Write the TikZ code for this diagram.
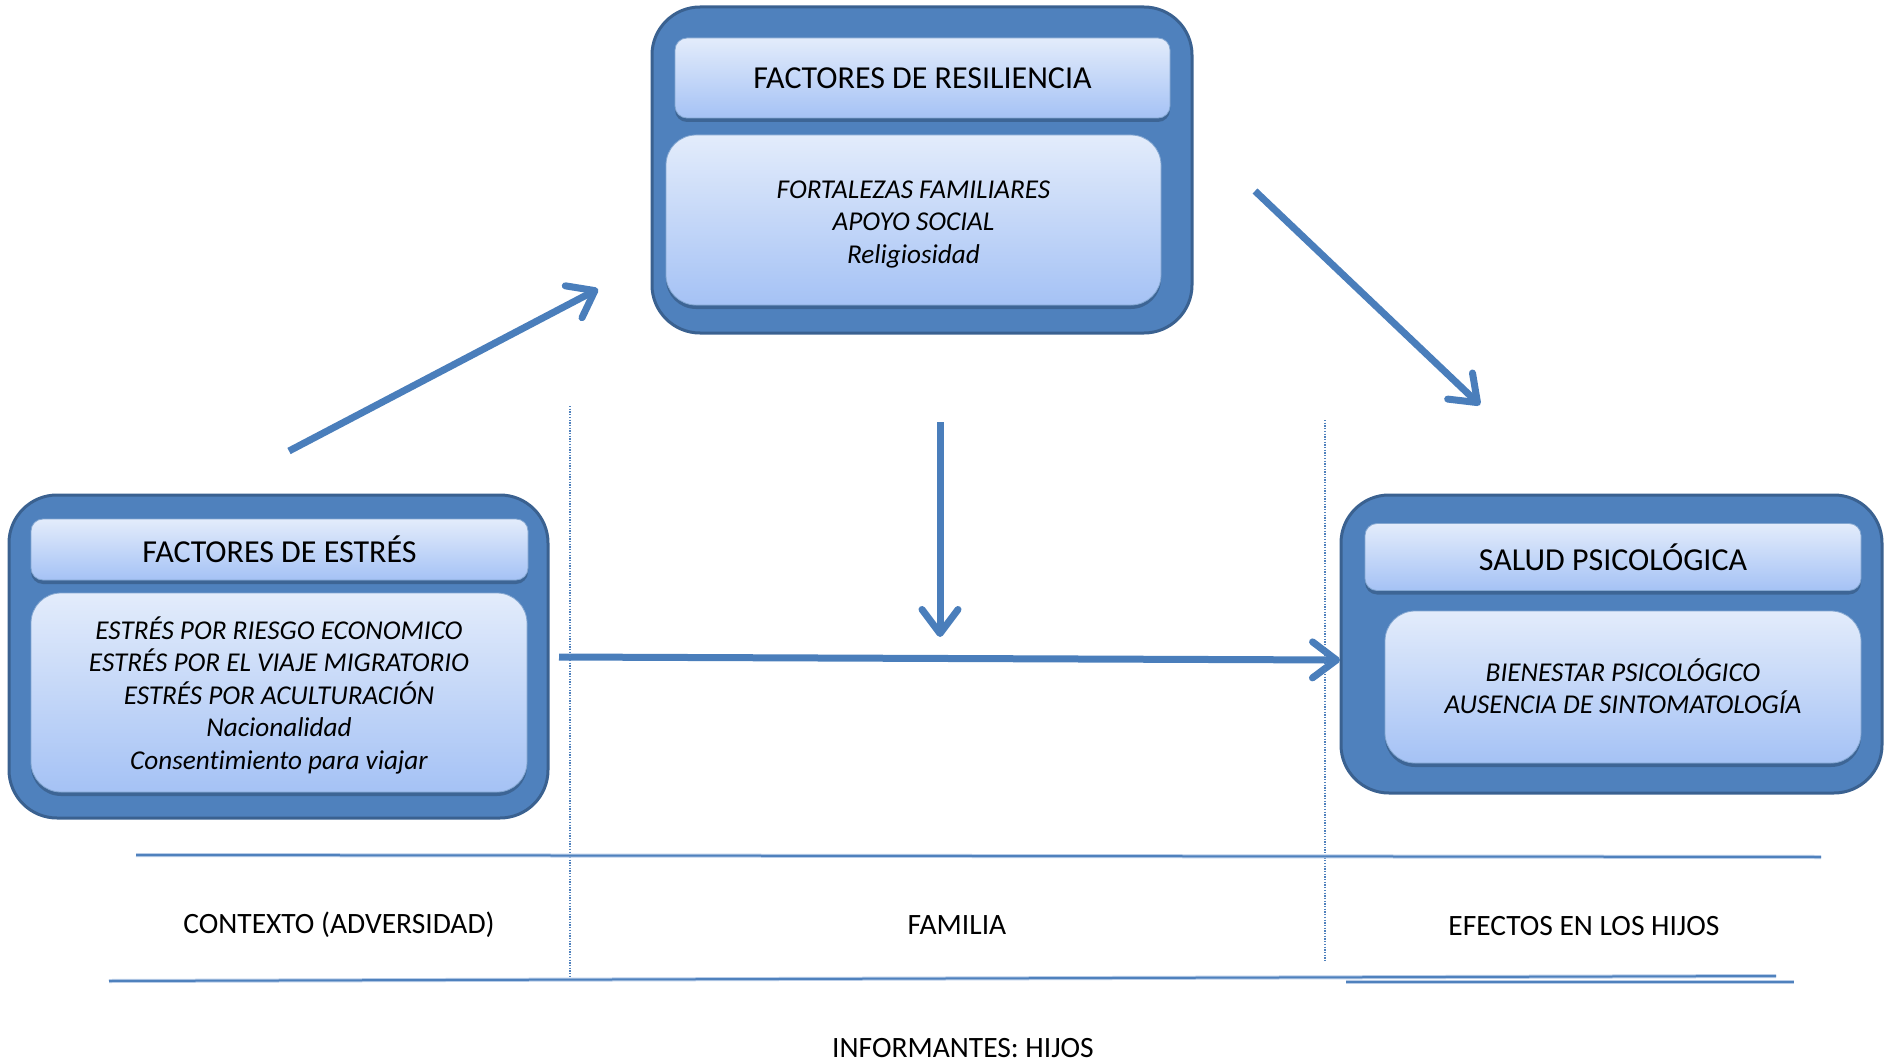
\documentclass[tikz,border=0pt]{standalone}
\usepackage{fontspec}
\setmainfont{Carlito}[Ligatures=NoCommon]
\usetikzlibrary{arrows.meta,shadows}
\definecolor{obfill}{HTML}{4F81BD}
\definecolor{obdraw}{HTML}{3A6190}
\definecolor{intop}{HTML}{E3ECFB}
\definecolor{inbot}{HTML}{A5C2F5}
\definecolor{arrowc}{HTML}{4A7EBB}
\definecolor{linec}{HTML}{4F81BD}
\definecolor{linelight}{HTML}{B9CDE8}
\tikzset{
  outerbox/.style={draw=obdraw, line width=3pt, fill=obfill, rounded corners=48pt, inner sep=0pt},
  innerbox/.style={draw=obfill!70!white, line width=0.8pt, top color=intop, bottom color=inbot,
     inner sep=0pt, align=center,
     drop shadow={shadow xshift=0pt, shadow yshift=-4pt, opacity=0.45, fill=obdraw!70!black}},
  titlebox/.style={innerbox, rounded corners=12pt, font=\fontsize{32}{38}\selectfont},
  bodybox/.style={innerbox, rounded corners=30pt},
  bodytext/.style={align=center, inner sep=0pt, font=\fontsize{27.2}{32.5}\selectfont\itshape},
  bigarrow/.style={draw=arrowc, line width=7pt, line cap=butt,
     -{Straight Barb[length=24pt,width=36pt,round]},
     preaction={draw=black, opacity=0.18, transform canvas={xshift=2pt,yshift=-2pt}}},
  divider/.style={draw=linec, line width=1.3pt, dash pattern=on 1.3pt off 1.4pt},
  rule/.style={draw=linec, line width=2pt, preaction={draw=linelight, line width=4pt}},
  label/.style={font=\fontsize{29.5}{35}\selectfont, inner sep=0pt}
}
\begin{document}
\begin{tikzpicture}[x=1pt,y=-1pt]
\useasboundingbox (0,0) rectangle (1885,1062);
% outer boxes
\node[outerbox, minimum width=540pt, minimum height=326pt] (topouter) at (922,170) {};
\node[outerbox, minimum width=539pt, minimum height=323pt] (leftouter) at (278.5,656.5) {};
\node[outerbox, minimum width=541pt, minimum height=298pt] (rightouter) at (1611.5,644) {};
% inner boxes
\node[titlebox, minimum width=495pt, minimum height=80pt] (toptitle) at (922.5,78) {FACTORES DE RESILIENCIA};
\node[bodybox, minimum width=495pt, minimum height=170pt] (topbody) at (913.5,220) {};
\node[bodytext] (topbodytext) at ([yshift=-4.5pt]topbody.center)
  {FORTALEZAS FAMILIARES\\APOYO SOCIAL\\Religiosidad};
\node[titlebox, minimum width=497pt, minimum height=61pt] (lefttitle) at (279.5,549.5) {FACTORES DE ESTRÉS};
\node[bodybox, minimum width=496pt, minimum height=199pt] (leftbody) at (279,692.5) {};
\node[bodytext] (leftbodytext) at ([yshift=-2.5pt]leftbody.center)
  {ESTRÉS POR RIESGO ECONOMICO\\ESTRÉS POR EL VIAJE MIGRATORIO\\ESTRÉS POR ACULTURACIÓN\\Nacionalidad\\Consentimiento para viajar};
\node[titlebox, minimum width=496pt, minimum height=67pt] (righttitle) at (1613,557) {SALUD PSICOLÓGICA};
\node[bodybox, minimum width=476pt, minimum height=152pt] (rightbody) at (1623,687) {};
\node[bodytext] (rightbodytext) at ([yshift=1pt]rightbody.center)
  {BIENESTAR PSICOLÓGICO\\AUSENCIA DE SINTOMATOLOGÍA};
% arrow end points
\coordinate (a1s) at (289,451);
\coordinate (a1e) at (598,289);
\coordinate (a2s) at (1255,191);
\coordinate (a2e) at (1480,405);
\coordinate (a3s) at (940,422);
\coordinate (a3e) at (940,637);
\coordinate (a4s) at (559,657);
\coordinate (a4e) at (1340,660);
\draw[bigarrow] (a1s) -- (a1e);
\draw[bigarrow] (a2s) -- (a2e);
\draw[bigarrow] (a3s) -- (a3e);
\draw[bigarrow] (a4s) -- (a4e);
% dotted dividers
\coordinate (d1t) at (570,406);
\coordinate (d1b) at (570,977);
\coordinate (d2t) at (1325,420);
\coordinate (d2b) at (1325,962);
\draw[divider] (d1t) -- (d1b);
\draw[divider] (d2t) -- (d2b);
% horizontal rules
\coordinate (r1l) at (136,855);
\coordinate (r1r) at (1821,857);
\coordinate (r2l) at (109,981);
\coordinate (r2r) at (1776,976);
\coordinate (r3l) at (1346,982);
\coordinate (r3r) at (1794,982);
\draw[rule] (r1l) -- (r1r);
\draw[rule] (r2l) -- (r2r);
\draw[rule] (r3l) -- (r3r);
% bottom labels
\node[label] (ctx) at (339,925) {CONTEXTO (ADVERSIDAD)};
\node[label] (fam) at (957,925) {FAMILIA};
\node[label] (efe) at (1584,926) {EFECTOS EN LOS HIJOS};
\node[label] (inf) at (963,1048) {INFORMANTES: HIJOS};
\end{tikzpicture}
\end{document}
